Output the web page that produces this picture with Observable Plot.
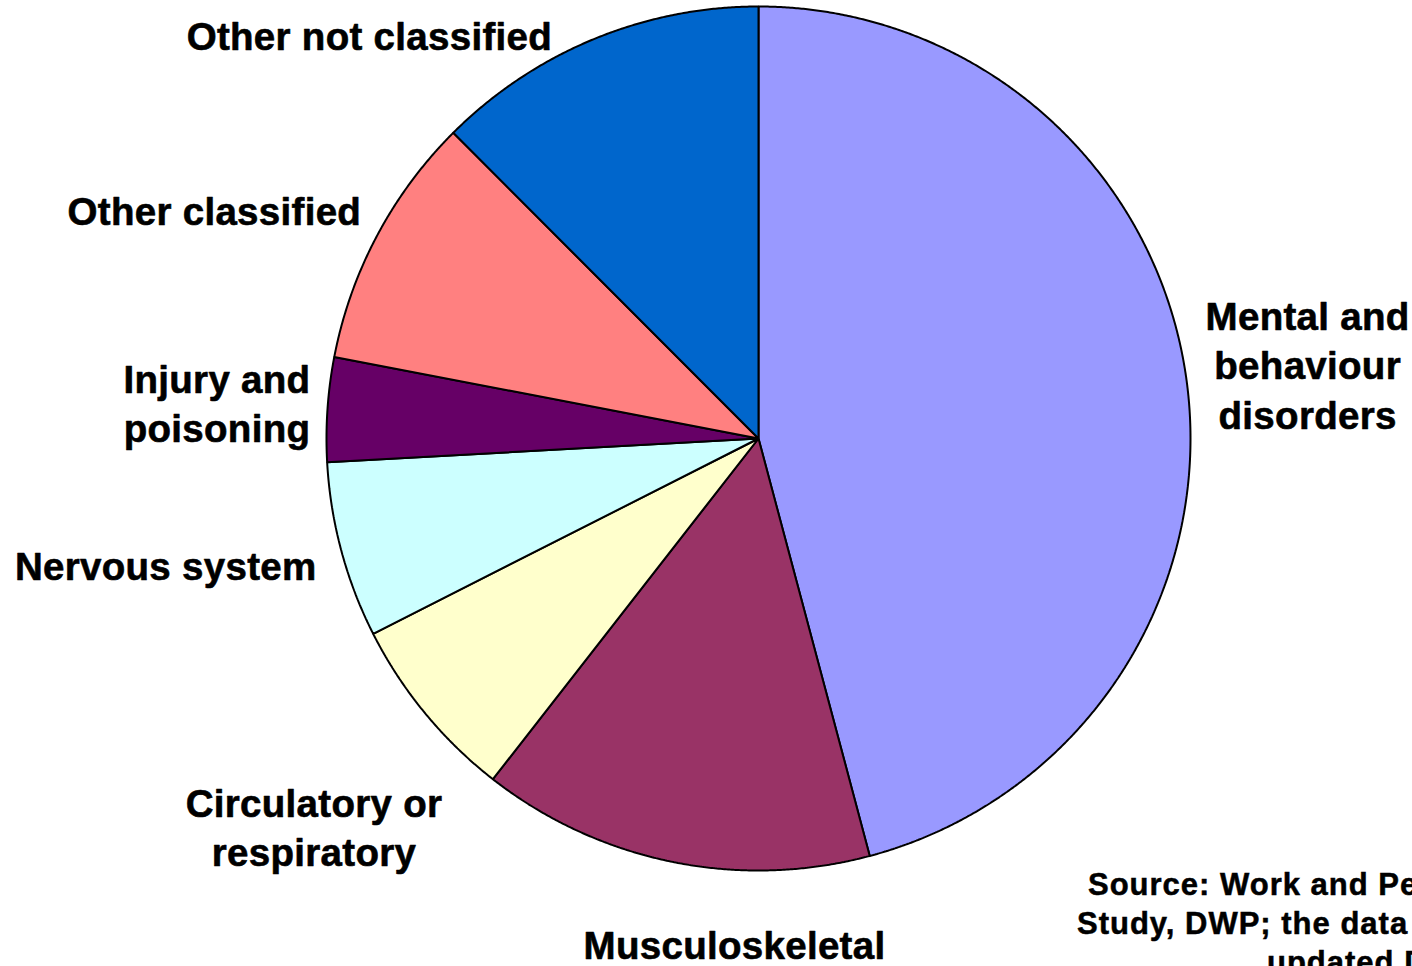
<!DOCTYPE html>
<html>
<head>
<meta charset="utf-8">
<script src="https://cdn.jsdelivr.net/npm/d3@7"></script>
<script src="https://cdn.jsdelivr.net/npm/@observablehq/plot@0.6"></script>
<style>
  html, body { margin: 0; padding: 0; background: #fff; overflow: hidden; }
  #wrap { position: relative; width: 1412px; height: 966px; overflow: hidden; }
  #chart svg text { letter-spacing: 0.3px; }
  .src { position: absolute; font: bold 31px "Liberation Sans", Arial, sans-serif; line-height: 38px; white-space: nowrap; color: #000; letter-spacing: 1px; -webkit-text-stroke: 0.5px #000; }
</style>
</head>
<body>
<div id="wrap">
  <div id="chart"></div>
  <div class="src" style="left:1088px; top:866px;">Source: Work and Pensions Longitudinal</div>
  <div class="src" style="left:1077px; top:905px;">Study, DWP; the data were last</div>
  <div class="src" style="left:1267px; top:944px;">updated Dec 2009</div>
</div>
<script>
// ---- data ----
const categories = [
  "Mental and behaviour disorders",
  "Musculoskeletal",
  "Circulatory or respiratory",
  "Nervous system",
  "Injury and poisoning",
  "Other classified",
  "Other not classified"
];
const values = [45.9, 14.7, 7.0, 6.6, 3.9, 9.5, 12.5];
const colors = ["#9999FF", "#993366", "#FFFFCC", "#CCFFFF", "#660066", "#FF8080", "#0066CC"];
const labels = [
  "Mental and\nbehaviour\ndisorders",
  "Musculoskeletal",
  "Circulatory or\nrespiratory",
  "Nervous system",
  "Injury and\npoisoning",
  "Other classified",
  "Other not classified"
];

// ---- label layout (polar nudges relative to each slice's mid-angle) ----
const labelAngleNudge = [0, -8.8, -1.8, 2.8, -0.3, -5.4, -21.6]; // degrees
const labelRadius = [1.282, 1.177, 1.369, 1.404, 1.256, 1.364, 1.295]; // in pie radii

// ---- geometry from data ----
const arcs = d3.pie().sort(null).value(d => d)(values);
const slicePts = [];
arcs.forEach((a, i) => {
  slicePts.push({key: categories[i], x: 0, y: 0});
  const n = Math.max(2, Math.ceil((a.endAngle - a.startAngle) / (Math.PI / 720)));
  for (let k = 0; k <= n; k++) {
    const t = a.startAngle + (a.endAngle - a.startAngle) * k / n;
    slicePts.push({key: categories[i], x: Math.sin(t), y: Math.cos(t)});
  }
});
const labelData = arcs.map((a, i) => {
  const t = (a.startAngle + a.endAngle) / 2 + labelAngleNudge[i] * Math.PI / 180;
  return {label: labels[i], x: labelRadius[i] * Math.sin(t), y: labelRadius[i] * Math.cos(t)};
});

const R = 432, CX = 758, CY = 438, W = 1412, H = 966;
const chart = Plot.plot({
  width: W,
  height: H,
  margin: 0,
  style: {fontFamily: "'Liberation Sans', Arial, sans-serif", background: "#fff", overflow: "visible"},
  x: {domain: [-CX / R, (W - CX) / R], axis: null},
  y: {domain: [-(H - CY) / R, CY / R], axis: null},
  color: {domain: categories, range: colors},
  marks: [
    Plot.line(slicePts, {x: "x", y: "y", z: "key", fill: "key", stroke: "black", strokeWidth: 2, curve: "linear-closed", strokeLinejoin: "miter"}),
    Plot.text(labelData, {x: "x", y: "y", dy: -3, text: "label", fontSize: 38.5, fontWeight: "bold", lineHeight: 1.29, fill: "black", stroke: "black", strokeWidth: 0.6, textAnchor: "middle", lineAnchor: "middle"})
  ]
});
document.getElementById("chart").appendChild(chart);
</script>
</body>
</html>
